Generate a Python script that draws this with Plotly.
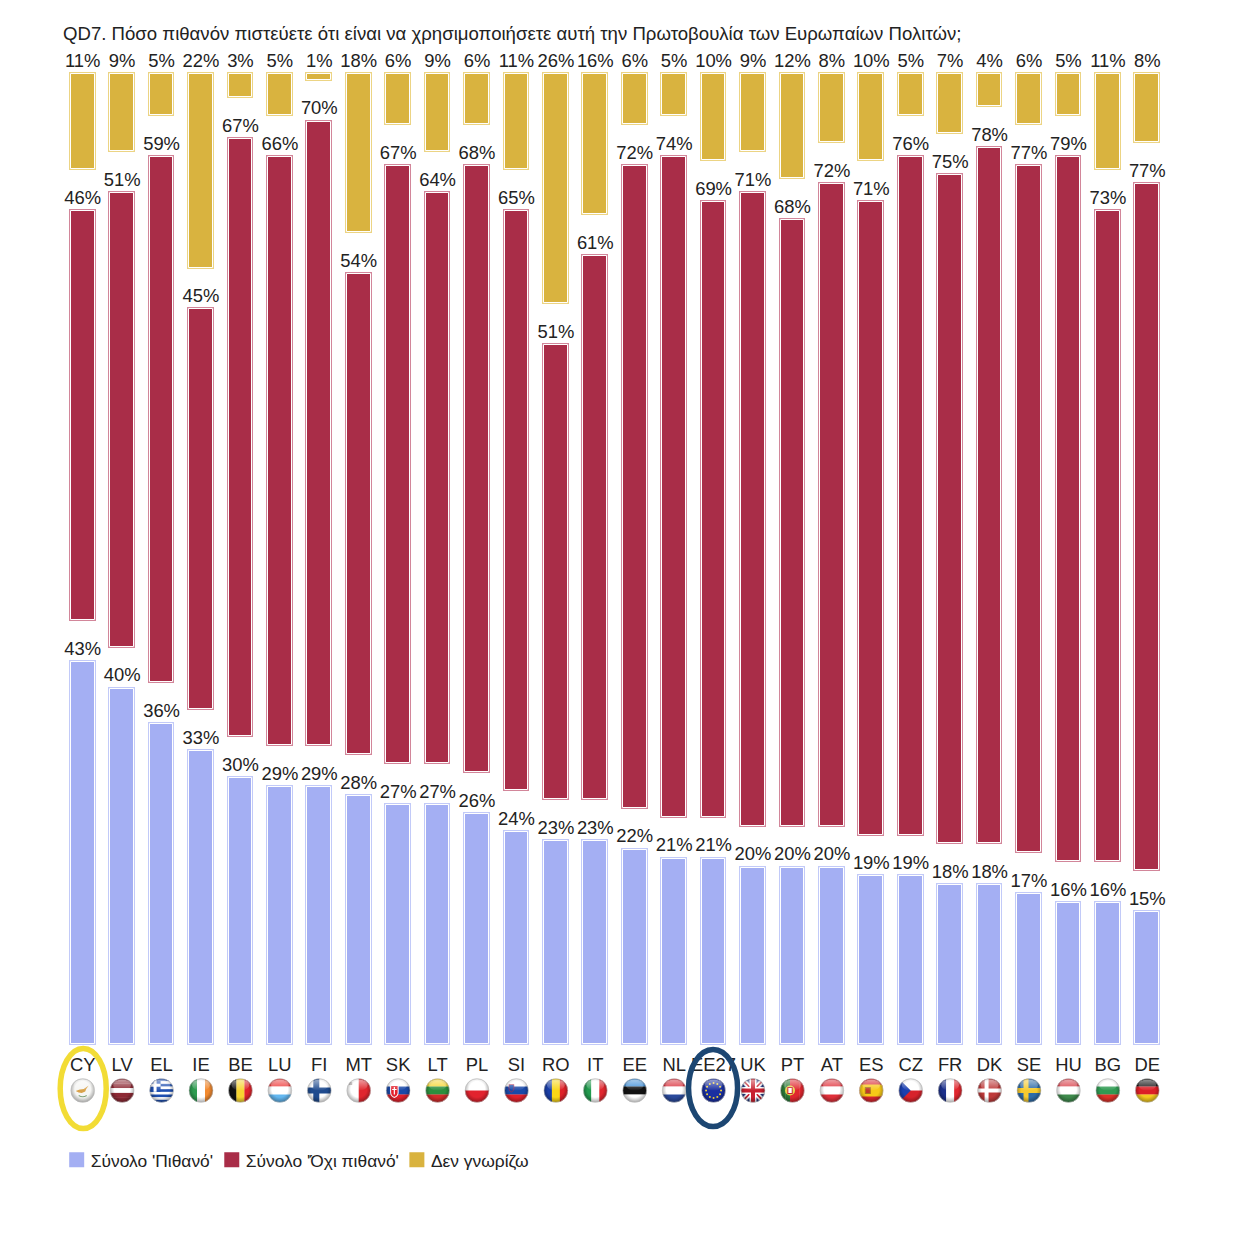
import base64, math
import plotly.graph_objects as go

countries = ["CY","LV","EL","IE","BE","LU","FI","MT","SK","LT","PL","SI","RO","IT","EE","NL","EE27","UK","PT","AT","ES","CZ","FR","DK","SE","HU","BG","DE"]
likely = [43,40,36,33,30,29,29,28,27,27,26,24,23,23,22,21,21,20,20,20,19,19,18,18,17,16,16,15]
not_likely = [46,51,59,45,67,66,70,54,67,64,68,65,51,61,72,74,69,71,68,72,71,76,75,78,77,79,73,77]
dont_know = [11,9,5,22,3,5,1,18,6,9,6,11,26,16,6,5,10,9,12,8,10,5,7,4,6,5,11,8]
series_names = ["Σύνολο 'Πιθανό'", "Σύνολο 'Όχι πιθανό'", "Δεν γνωρίζω"]
title_text = "QD7. Πόσο πιθανόν πιστεύετε ότι είναι να χρησιμοποιήσετε αυτή την Πρωτοβουλία των Ευρωπαίων Πολιτών;"

GAP = 4.35
PX_PER_UNIT = 8.95
INSET = 1.5 / PX_PER_UNIT   # strokes are centred on the edge; keep the outer frame on the value span
LABEL_LIFT = 1 / PX_PER_UNIT
FONT = "Liberation Sans, Arial, sans-serif"
INK = "#222222"
fills = ["#A4AFF3", "#A92D48", "#D9B33F"]
rims = ["#C2CAF8", "#D2869A", "#ECD484"]

idx = list(range(len(countries)))
base_red = [a + GAP for a in likely]
base_yel = [a + GAP + b + GAP for a, b in zip(likely, not_likely)]
segments = [(likely, [0] * len(idx)), (not_likely, base_red), (dont_know, base_yel)]

fig = go.Figure()
for i, (vals, base) in enumerate(segments):
    y_in = [v - 2 * INSET for v in vals]
    b_in = [b + INSET for b in base]
    fig.add_trace(go.Bar(x=idx, y=y_in, base=b_in, width=0.6, showlegend=False, hoverinfo="skip", cliponaxis=False,
                         marker=dict(color=rims[i], line=dict(color=rims[i], width=3))))
    fig.add_trace(go.Bar(x=idx, y=y_in, base=b_in, width=0.6, showlegend=False, name=series_names[i], cliponaxis=False,
                         customdata=vals, hovertemplate="%{customdata}%<extra></extra>",
                         marker=dict(color=fills[i], line=dict(color="white", width=1))))
for i, (vals, base) in enumerate(segments):
    fig.add_trace(go.Scatter(x=idx, y=[v + b + LABEL_LIFT for v, b in zip(vals, base)], mode="text", showlegend=False,
                             text=[f"{v}%" for v in vals], textposition="top center", hoverinfo="skip",
                             cliponaxis=False, textfont=dict(family=FONT, size=18.4, color=INK)))
for i, name in enumerate(series_names):
    fig.add_trace(go.Bar(x=[None], y=[None], name=name, showlegend=True,
                         legend="legend" if i == 0 else f"legend{i+1}",
                         marker=dict(color=fills[i], line=dict(color=fills[i], width=3))))

# ---- flags (small hand-drawn SVG badges) ----
def stripes_h(*c):
    h = 24 / len(c)
    return "".join(f'<rect x="0" y="{k*h}" width="24" height="{h+0.2}" fill="{v}"/>' for k, v in enumerate(c))
def stripes_v(*c):
    w = 24 / len(c)
    return "".join(f'<rect x="{k*w}" y="0" width="{w+0.2}" height="24" fill="{v}"/>' for k, v in enumerate(c))
def cross(bg, fg, cx=9, t=4):
    return (f'<rect width="24" height="24" fill="{bg}"/><rect x="{cx-t/2}" width="{t}" height="24" fill="{fg}"/>'
            f'<rect y="{12-t/2}" width="24" height="{t}" fill="{fg}"/>')
eu_stars = "".join(f'<circle cx="{12+7.5*math.cos(k*math.pi/6):.2f}" cy="{12+7.5*math.sin(k*math.pi/6):.2f}" r="1" fill="#F5D63A"/>' for k in range(12))
greece = stripes_h(*["#1F4FB0", "#FFFFFF"] * 4 + ["#1F4FB0"]) + '<rect width="11" height="13.3" fill="#1F4FB0"/><rect x="4" width="3" height="13.3" fill="#fff"/><rect y="5.2" width="11" height="3" fill="#fff"/>'
uk = ('<rect width="24" height="24" fill="#2A3F86"/><path d="M0 0L24 24M24 0L0 24" stroke="#fff" stroke-width="5"/>'
      '<path d="M0 0L24 24M24 0L0 24" stroke="#C8202F" stroke-width="1.6"/><path d="M12 0V24M0 12H24" stroke="#fff" stroke-width="7"/>'
      '<path d="M12 0V24M0 12H24" stroke="#C8202F" stroke-width="4"/>')
flags = {
    "CY": '<rect width="24" height="24" fill="#F6F6F4"/><path d="M5 12.5L9 11L13 10.5L18 7L15.5 10.5L14.5 13L11 14.5L8 14Z" fill="#D9A24A"/><path d="M8 17Q12 19.5 16 17" stroke="#7FA37A" stroke-width="1" fill="none"/>',
    "LV": stripes_h("#8E2A35", "#8E2A35", "#FFFFFF", "#8E2A35", "#8E2A35"),
    "EL": greece,
    "IE": stripes_v("#2E9B50", "#FFFFFF", "#F28A30"),
    "BE": stripes_v("#111111", "#F7D430", "#E0242C"),
    "LU": stripes_h("#EE3A3A", "#FFFFFF", "#63B7F0"),
    "FI": cross("#FFFFFF", "#1F4B8E", 9, 6),
    "MT": stripes_v("#FFFFFF", "#E0262E") + '<rect x="2.5" y="3.5" width="3" height="3" fill="#B0A8A8"/>',
    "SK": stripes_h("#FFFFFF", "#1A49A8", "#E3202B") + '<path d="M4.5 7H12V14Q12 17.5 8.2 19Q4.5 17.5 4.5 14Z" fill="#E3202B" stroke="#fff"/><path d="M8.2 8.5V16M6 11H10.5" stroke="#fff" stroke-width="1.2"/>',
    "LT": stripes_h("#F7D530", "#2C8F3E", "#D52B2B"),
    "PL": stripes_h("#FFFFFF", "#E2232E"),
    "SI": stripes_h("#FFFFFF", "#1A49A8", "#E3202B") + '<path d="M4.5 6H9.5V10Q9.5 12.5 7 13.5Q4.5 12.5 4.5 10Z" fill="#1A49A8" stroke="#E3202B" stroke-width=".5"/>',
    "RO": stripes_v("#1A3FA8", "#F9D616", "#DE2128"),
    "IT": stripes_v("#229A4E", "#FFFFFF", "#E0262E"),
    "EE": stripes_h("#3F8FD8", "#111111", "#FFFFFF"),
    "NL": stripes_h("#D9303C", "#FFFFFF", "#2A4A9C"),
    "EE27": '<rect width="24" height="24" fill="#1A2FA0"/>' + eu_stars,
    "UK": uk,
    "PT": stripes_v("#2C7A38", "#2C7A38", "#E0262E", "#E0262E", "#E0262E") + '<circle cx="9.6" cy="12" r="5" fill="#E8D24A"/><rect x="7.4" y="9" width="4.4" height="6" fill="#fff" stroke="#C8202F"/>',
    "AT": stripes_h("#E0303A", "#FFFFFF", "#E0303A"),
    "ES": '<rect width="24" height="24" fill="#D9262E"/><rect y="6" width="24" height="12" fill="#F7C917"/><rect x="6" y="9" width="5" height="6" fill="#C0392B" stroke="#A8781C"/>',
    "CZ": stripes_h("#FFFFFF", "#D7222C") + '<path d="M0 0L12 12L0 24Z" fill="#1A3FB0"/>',
    "FR": stripes_v("#1B2F8A", "#FFFFFF", "#E0262E"),
    "DK": cross("#BE3A3A", "#FFFFFF", 9, 4),
    "SE": cross("#2F6CA8", "#F6CB2F", 9, 5),
    "HU": stripes_h("#D8404A", "#FFFFFF", "#3E8A4C"),
    "BG": stripes_h("#FFFFFF", "#2F9A52", "#DE3128"),
    "DE": stripes_h("#111111", "#DC1F26", "#F4C91E"),
}
def badge(body):
    svg = ('<svg xmlns="http://www.w3.org/2000/svg" width="96" height="96" viewBox="-1 -1 26 26"><defs>'
           '<clipPath id="c"><circle cx="12" cy="12" r="12"/></clipPath>'
           '<radialGradient id="g" cx="50%" cy="45%" r="55%"><stop offset="60%" stop-color="#000" stop-opacity="0"/>'
           '<stop offset="100%" stop-color="#000" stop-opacity=".35"/></radialGradient>'
           '<linearGradient id="h" x1="0" y1="0" x2="0" y2="1"><stop offset="0" stop-color="#fff" stop-opacity=".55"/>'
           '<stop offset="1" stop-color="#fff" stop-opacity=".02"/></linearGradient></defs>'
           f'<g clip-path="url(#c)">{body}<rect width="24" height="24" fill="url(#g)"/>'
           '<ellipse cx="12" cy="6.5" rx="9" ry="5.5" fill="url(#h)"/></g>'
           '<circle cx="12" cy="12" r="11.9" fill="none" stroke="#BDBDBD" stroke-width=".6"/></svg>')
    return "data:image/svg+xml;base64," + base64.b64encode(svg.encode()).decode()

L, R, T, B = 63.3, 1166.7, 50.0, 1045.0
PW, PH = R - L, B - T
def py(y):
    return (B - y) / PH
def lx(x):
    return (x - L) / PW
unit = PW / len(idx)

images = [dict(source=badge(flags[c]), xref="x", yref="paper", x=i, y=py(1090.5), sizex=26 / unit, sizey=26 / PH,
               xanchor="center", yanchor="middle", sizing="contain", layer="above") for i, c in enumerate(countries)]
shapes = [
    dict(type="circle", xref="paper", yref="paper", x0=lx(60.5), x1=lx(106.5), y0=py(1128.5), y1=py(1048.5),
         line=dict(color="#F2DC35", width=5.5)),
    dict(type="circle", xref="paper", yref="paper", x0=lx(688.5), x1=lx(737.5), y0=py(1126.5), y1=py(1049.5),
         line=dict(color="#1C4672", width=5.5)),
]
def legend_at(x):
    return dict(x=lx(x), y=py(1178), xanchor="left", yanchor="bottom", orientation="h", bgcolor="rgba(0,0,0,0)",
                font=dict(family=FONT, size=17.4, color=INK), itemclick=False, itemdoubleclick=False)

fig.update_layout(
    width=1243, height=1243, barmode="overlay", bargap=0, showlegend=True,
    paper_bgcolor="white", plot_bgcolor="rgba(0,0,0,0)",
    margin=dict(l=L, r=1243 - R, t=T, b=1243 - B, pad=0, autoexpand=False),
    font=dict(family=FONT, size=18, color=INK),
    title=dict(text=title_text, x=63 / 1243, xanchor="left", y=1 - 33.5 / 1243, yanchor="middle",
               font=dict(family=FONT, size=18.6, color=INK)),
    xaxis=dict(range=[-0.5, len(idx) - 0.5], tickmode="array", tickvals=idx, ticktext=countries, tickangle=0,
               ticks="", showline=False, showgrid=False, zeroline=False, ticklabelstandoff=7,
               tickfont=dict(family=FONT, size=18.4, color=INK)),
    yaxis=dict(range=[0, PH / PX_PER_UNIT], visible=False, fixedrange=True),
    images=images, shapes=shapes,
    legend=legend_at(51), legend2=legend_at(206), legend3=legend_at(391),
)
fig.write_html("out.html", config=dict(displayModeBar=False),
               post_script="document.body.style.margin='0';document.body.style.overflow='hidden';"
                           "document.querySelectorAll('.legendsymbols').forEach(function(g){g.setAttribute('transform','translate(6,0)');});")
